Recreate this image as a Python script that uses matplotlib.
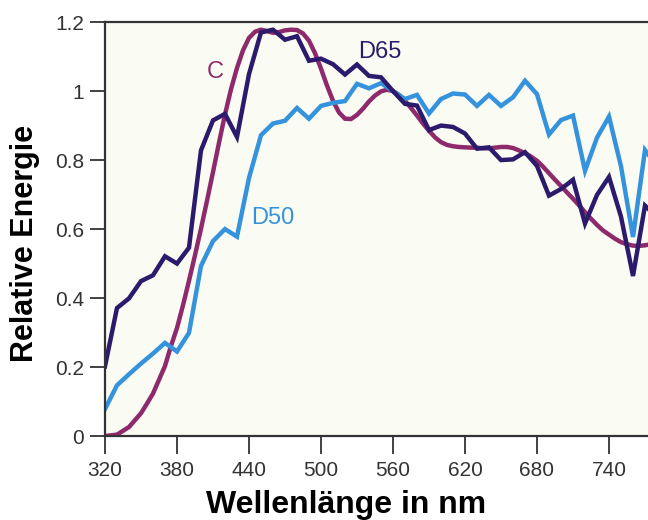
import matplotlib.pyplot as plt
import numpy as np

# wavelengths (nm) and relative spectral power
wl_10 = np.arange(320, 790, 10)
d65 = [0.202, 0.371, 0.399, 0.449, 0.466, 0.521, 0.500, 0.546, 0.828, 0.915,
       0.934, 0.867, 1.049, 1.170, 1.178, 1.149, 1.159, 1.088, 1.094, 1.078,
       1.048, 1.077, 1.044, 1.040, 1.000, 0.963, 0.958, 0.887, 0.900, 0.896,
       0.877, 0.833, 0.837, 0.800, 0.802, 0.823, 0.783, 0.697, 0.716, 0.743,
       0.616, 0.699, 0.751, 0.636, 0.464, 0.668, 0.634]
d50 = [0.078, 0.147, 0.179, 0.210, 0.239, 0.270, 0.245, 0.299, 0.493, 0.565,
       0.600, 0.578, 0.748, 0.872, 0.906, 0.914, 0.951, 0.920, 0.957, 0.966,
       0.971, 1.021, 1.008, 1.023, 1.000, 0.977, 0.989, 0.935, 0.977, 0.993,
       0.990, 0.957, 0.989, 0.957, 0.982, 1.030, 0.991, 0.874, 0.916, 0.929,
       0.769, 0.865, 0.926, 0.782, 0.577, 0.829, 0.783]

wl_5 = np.arange(320, 785, 5)
illum_c = [0.000, 0.002, 0.004, 0.015, 0.026, 0.046, 0.066, 0.094, 0.123, 0.163,
           0.203, 0.261, 0.313, 0.379, 0.450, 0.524, 0.601, 0.682, 0.765, 0.850,
           0.932, 1.005, 1.067, 1.118, 1.154, 1.172, 1.178, 1.174, 1.169, 1.171,
           1.176, 1.178, 1.177, 1.167, 1.146, 1.110, 1.065, 1.016, 0.972, 0.938,
           0.920, 0.919, 0.931, 0.949, 0.970, 0.987, 0.999, 1.004, 1.000, 0.989,
           0.972, 0.951, 0.929, 0.906, 0.885, 0.866, 0.852, 0.844, 0.840, 0.838,
           0.837, 0.836, 0.836, 0.834, 0.834, 0.836, 0.838, 0.838, 0.835, 0.828,
           0.820, 0.810, 0.798, 0.781, 0.762, 0.743, 0.725, 0.706, 0.688, 0.669,
           0.649, 0.630, 0.612, 0.596, 0.584, 0.572, 0.562, 0.556, 0.552, 0.551,
           0.553, 0.556, 0.561]

x_ticks = [320, 380, 440, 500, 560, 620, 680, 740]
y_ticks = [0, 0.2, 0.4, 0.6, 0.8, 1.0, 1.2]
y_labels = ['0', '0.2', '0.4', '0.6', '0.8', '1', '1.2']

c_col = '#8e2a6c'
d65_col = '#2c1b6c'
d50_col = '#3592dc'

plt.rcParams['font.family'] = ['Liberation Sans', 'DejaVu Sans']

fig = plt.figure(figsize=(6.48, 5.2), dpi=100)
ax = fig.add_axes([0.162, 0.1615, 0.838, 0.796])
ax.set_facecolor('#fafcf4')

ax.plot(wl_5, illum_c, color=c_col, lw=3.2, solid_joinstyle='miter')
ax.plot(wl_10, d50, color=d50_col, lw=3.2, solid_joinstyle='miter')
ax.plot(wl_10, d65, color=d65_col, lw=3.2, solid_joinstyle='miter')

ax.text(412, 1.055, 'C', color=c_col, fontsize=17, ha='center', va='center')
ax.text(549, 1.113, 'D65', color=d65_col, fontsize=17, ha='center', va='center')
ax.text(460, 0.632, 'D50', color=d50_col, fontsize=17, ha='center', va='center')

ax.set_xlim(320, 772.5)
ax.set_ylim(0, 1.2)
ax.set_xticks(x_ticks)
ax.set_yticks(y_ticks)
ax.set_yticklabels(y_labels)
ax.tick_params(axis='x', direction='out', length=13, width=1.3, color='#333333',
               labelsize=15, labelcolor='#333333', pad=5)
ax.tick_params(axis='y', direction='out', length=11, width=1.3, color='#333333',
               labelsize=15, labelcolor='#333333', pad=4)

for side in ['left', 'top', 'bottom']:
    ax.spines[side].set_color('#333333')
    ax.spines[side].set_linewidth(1.6)
ax.spines['right'].set_visible(False)

ax.set_xlabel('Wellenlänge in nm', fontsize=23, fontweight='bold')
ax.set_ylabel('Relative Energie', fontsize=22, fontweight='bold')
ax.xaxis.set_label_coords((346 - 105) / 543, -(490 - 436) / 414)
ax.yaxis.set_label_coords(-(105 - 40) / 543, (436 - 243) / 414)

plt.savefig('out.png', dpi=100)
